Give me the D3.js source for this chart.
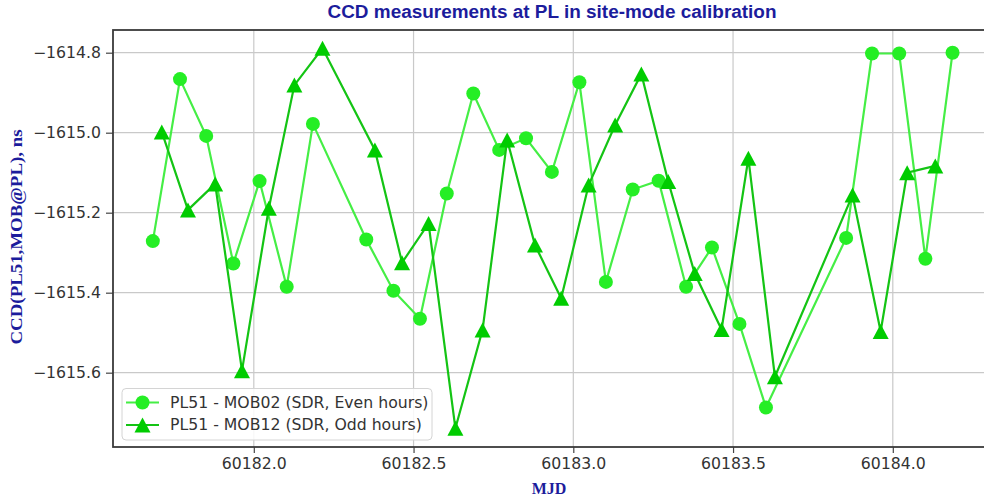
<!DOCTYPE html>
<html>
<head>
<meta charset="utf-8">
<script src="https://cdn.jsdelivr.net/npm/d3@7"></script>
<style>
    body { margin: 0; background: #fff; }
    #chart { width: 984px; height: 499px; }
</style>
</head>
<body>
<div id="chart"></div>
<script>
// even hours: PL51 - MOB02
let evenMjd = [60181.684, 60181.769, 60181.851, 60181.936, 60182.018, 60182.103, 60182.185, 60182.352,
    60182.437, 60182.520, 60182.604, 60182.687, 60182.768, 60182.852, 60182.933, 60183.019, 60183.102,
    60183.186, 60183.267, 60183.353, 60183.434, 60183.520, 60183.603, 60183.854, 60183.935, 60184.020,
    60184.102, 60184.187];
let evenCcd = [-1615.271, -1614.866, -1615.008, -1615.327, -1615.121, -1615.385, -1614.978, -1615.267,
    -1615.395, -1615.465, -1615.152, -1614.902, -1615.043, -1615.014, -1615.098, -1614.874, -1615.373,
    -1615.142, -1615.120, -1615.385, -1615.287, -1615.478, -1615.687, -1615.263, -1614.802, -1614.802,
    -1615.315, -1614.800];

// odd hours: PL51 - MOB12
let oddMjd = [60181.712, 60181.794, 60181.879, 60181.963, 60182.047, 60182.127, 60182.215, 60182.379,
    60182.464, 60182.547, 60182.631, 60182.716, 60182.793, 60182.880, 60182.962, 60183.048, 60183.131,
    60183.213, 60183.297, 60183.380, 60183.464, 60183.548, 60183.631, 60183.874, 60183.962, 60184.045,
    60184.133];
let oddCcd = [-1614.998, -1615.193, -1615.128, -1615.595, -1615.189, -1614.881, -1614.789, -1615.043,
    -1615.325, -1615.227, -1615.739, -1615.493, -1615.018, -1615.281, -1615.414, -1615.131, -1614.981,
    -1614.853, -1615.122, -1615.352, -1615.492, -1615.064, -1615.610, -1615.156, -1615.497, -1615.100,
    -1615.083];

let xTicks = [60182.0, 60182.5, 60183.0, 60183.5, 60184.0];
let yTicks = [-1614.8, -1615.0, -1615.2, -1615.4, -1615.6];
let seriesNames = ["PL51 - MOB02 (SDR, Even hours)", "PL51 - MOB12 (SDR, Odd hours)"];

class CCDChart {
    constructor(parentElement) {
        this.parentElement = parentElement;
        this.series = [
            { name: seriesNames[0], shape: "circle", line: "#45ee45", fill: "#25ee25",
              data: evenMjd.map((m, i) => ({ mjd: m, ccd: evenCcd[i] })) },
            { name: seriesNames[1], shape: "triangle", line: "#14c414", fill: "#00cc00",
              data: oddMjd.map((m, i) => ({ mjd: m, ccd: oddCcd[i] })) }
        ];
        this.initVis();
    }

    initVis() {
        let vis = this;

        vis.width = 984;
        vis.height = 499;
        vis.plot = { left: 113, top: 30, right: 986, bottom: 447 };

        vis.svg = d3.select("#" + vis.parentElement).append("svg")
            .attr("width", vis.width)
            .attr("height", vis.height)
            .style("font-family", "'DejaVu Sans', sans-serif");

        vis.x = d3.scaleLinear()
            .domain([60181.5593, 60184.2917])
            .range([vis.plot.left, vis.plot.right]);

        vis.y = d3.scaleLinear()
            .domain([-1615.7858, -1614.74325])
            .range([vis.plot.bottom, vis.plot.top]);

        vis.updateVis();
    }

    updateVis() {
        let vis = this;
        let p = vis.plot;

        // grid
        vis.svg.append("g").attr("class", "grid")
            .selectAll("line.gx").data(xTicks).enter().append("line")
            .attr("x1", d => vis.x(d)).attr("x2", d => vis.x(d))
            .attr("y1", p.top).attr("y2", p.bottom)
            .style("stroke", "#c9c9c9").style("stroke-width", "1.2px");
        vis.svg.select(".grid")
            .selectAll("line.gy").data(yTicks).enter().append("line")
            .attr("y1", d => vis.y(d)).attr("y2", d => vis.y(d))
            .attr("x1", p.left).attr("x2", p.right)
            .style("stroke", "#c9c9c9").style("stroke-width", "1.2px");

        // axes
        let xAxis = d3.axisBottom(vis.x).tickValues(xTicks).tickFormat(d3.format(".1f")).tickSize(6).tickPadding(5);
        let yAxis = d3.axisLeft(vis.y).tickValues(yTicks).tickFormat(d => d3.format(".1f")(d).replace("-", "\u2212")).tickSize(7).tickPadding(5);

        let gx = vis.svg.append("g")
            .attr("transform", "translate(0," + p.bottom + ")")
            .call(xAxis);
        let gy = vis.svg.append("g")
            .attr("transform", "translate(" + p.left + ",0)")
            .call(yAxis);
        [gx, gy].forEach(g => {
            g.select(".domain").remove();
            g.selectAll("line").style("stroke", "#444").style("stroke-width", "1.2px");
            g.selectAll("text").style("font-size", "15.7px").style("fill", "#333")
                .style("font-family", "'DejaVu Sans', sans-serif");
        });

        // frame
        vis.svg.append("rect")
            .attr("x", p.left).attr("y", p.top)
            .attr("width", p.right - p.left).attr("height", p.bottom - p.top)
            .style("fill", "none").style("stroke", "#3a3a3a").style("stroke-width", "1.8px");

        // lines + markers
        let line = d3.line().x(d => vis.x(d.mjd)).y(d => vis.y(d.ccd));

        vis.series.forEach(s => {
            let g = vis.svg.append("g");
            g.append("path")
                .datum(s.data)
                .attr("d", line)
                .style("fill", "none")
                .style("stroke", s.line)
                .style("stroke-width", "2.2px");
            drawMarkers(g, s, s.data.map(d => [vis.x(d.mjd), vis.y(d.ccd)]));
        });

        // legend
        let lg = vis.svg.append("g").attr("class", "legend");
        lg.append("rect")
            .attr("x", 122).attr("y", 388.5).attr("width", 310).attr("height", 51.5)
            .attr("rx", 4)
            .style("fill", "rgba(255,255,255,0.85)").style("stroke", "#d4d4d4").style("stroke-width", "1px");

        vis.series.forEach((s, i) => {
            let ly = 402.5 + i * 22.5;
            lg.append("line")
                .attr("x1", 126).attr("x2", 159).attr("y1", ly).attr("y2", ly)
                .style("stroke", s.line).style("stroke-width", "2.2px");
            drawMarkers(lg, s, [[142.5, ly]]);
            lg.append("text")
                .attr("x", 170).attr("y", ly)
                .attr("dy", "0.35em")
                .style("font-size", "15.7px").style("fill", "#333")
                .text(s.name);
        });

        // title and axis labels
        vis.svg.append("text")
            .attr("x", 552).attr("y", 12).attr("dy", "0.36em")
            .attr("text-anchor", "middle")
            .attr("textLength", 449).attr("lengthAdjust", "spacingAndGlyphs")
            .style("font-family", "'Liberation Sans', Arial, sans-serif")
            .style("font-weight", "bold").style("font-size", "17.5px").style("fill", "#1c1c9c")
            .text("CCD measurements at PL in site-mode calibration");

        vis.svg.append("text")
            .attr("x", 549).attr("y", 488).attr("dy", "0.35em")
            .attr("text-anchor", "middle")
            .style("font-family", "'Liberation Serif', 'Times New Roman', serif")
            .style("font-weight", "bold").style("font-size", "16px").style("fill", "#1c1c9c")
            .text("MJD");

        vis.svg.append("text")
            .attr("transform", "translate(16,237) rotate(-90)")
            .attr("dy", "0.35em")
            .attr("text-anchor", "middle")
            .attr("textLength", 215).attr("lengthAdjust", "spacingAndGlyphs")
            .style("font-family", "'Liberation Serif', 'Times New Roman', serif")
            .style("font-weight", "bold").style("font-size", "16px").style("fill", "#1c1c9c")
            .text("CCD(PL51,MOB@PL), ns");

        function drawMarkers(g, s, pts) {
            if (s.shape === "circle") {
                g.selectAll(null).data(pts).enter().append("circle")
                    .attr("cx", d => d[0]).attr("cy", d => d[1])
                    .attr("r", 7)
                    .style("fill", s.fill);
            } else {
                g.selectAll(null).data(pts).enter().append("path")
                    .attr("d", d => "M" + d[0] + "," + (d[1] - 7.5) + "L" + (d[0] - 8) + "," + (d[1] + 7.5) + "L" + (d[0] + 8) + "," + (d[1] + 7.5) + "Z")
                    .style("fill", s.fill);
            }
        }
    }
}

new CCDChart("chart");
</script>
</body>
</html>
